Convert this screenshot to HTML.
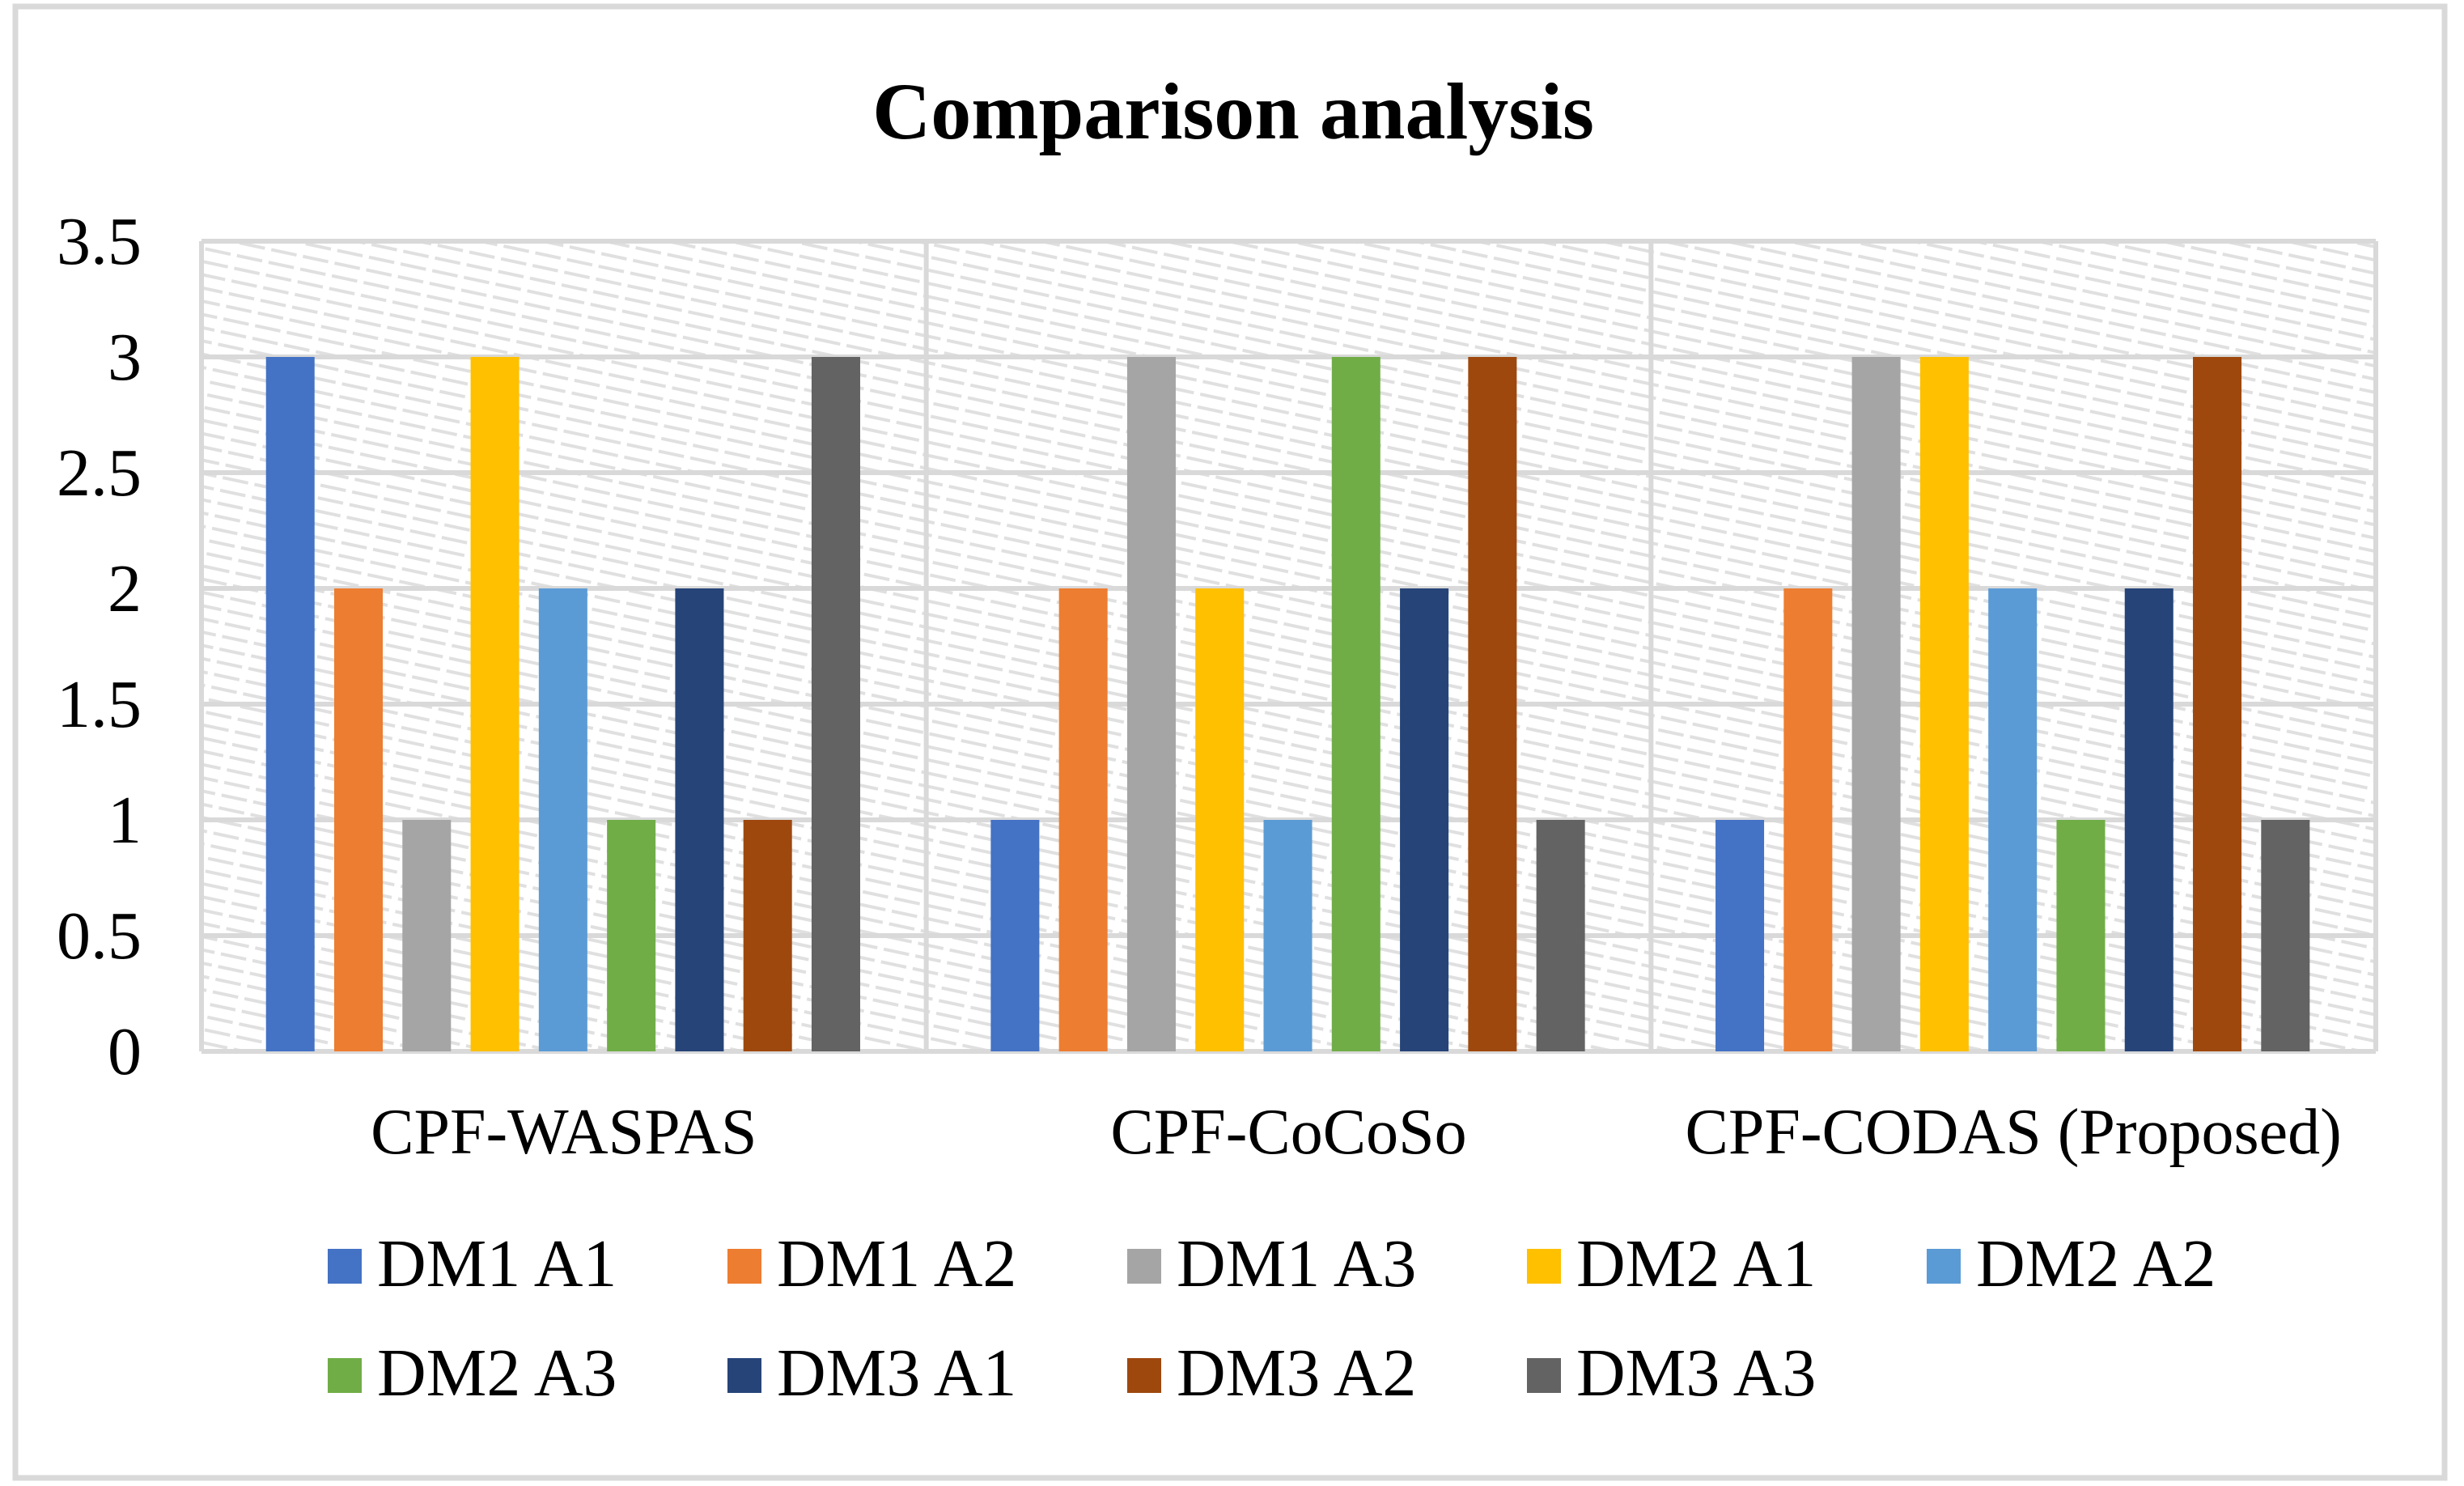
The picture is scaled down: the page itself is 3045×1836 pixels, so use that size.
<!DOCTYPE html>
<html><head><meta charset="utf-8"><style>
html,body{margin:0;padding:0;background:#fff;}
svg{display:block;font-family:"Liberation Serif",serif;}
</style></head><body>
<svg id="chart" width="3045" height="1836" viewBox="0 0 3045 1836" xmlns="http://www.w3.org/2000/svg">
<defs>
<pattern id="hatch" width="40" height="16" patternUnits="userSpaceOnUse" patternTransform="rotate(12)">
<rect width="40" height="16" fill="#fff"/>
<line x1="0" y1="8" x2="40" y2="8" stroke="#e0e0e0" stroke-width="4" stroke-dasharray="24 8"/>
</pattern>
</defs>
<rect x="19" y="8" width="3002" height="1818" fill="#fff" stroke="#d9d9d9" stroke-width="7"/>
<text x="1524" y="171" text-anchor="middle" font-size="100" font-weight="bold">Comparison analysis</text>
<g id="plot"></g>
<g id="legend"></g>
</svg>
<script>
const categories = ["CPF-WASPAS", "CPF-CoCoSo", "CPF-CODAS (Proposed)"];
const seriesNames = ["DM1 A1","DM1 A2","DM1 A3","DM2 A1","DM2 A2","DM2 A3","DM3 A1","DM3 A2","DM3 A3"];
const seriesColors = ["#4472C4","#ED7D31","#A5A5A5","#FFC000","#5B9BD5","#70AD47","#264478","#9E480E","#636363"];
const waspasValues = [3,2,1,3,2,1,2,1,3];
const cocosoValues = [1,2,3,2,1,3,2,3,1];
const codasValues = [1,2,3,3,2,1,2,3,1];
const yTicks = [0,0.5,1,1.5,2,2.5,3,3.5];
const yTickLabels = ["0","0.5","1","1.5","2","2.5","3","3.5"];

const NS = "http://www.w3.org/2000/svg";
const plotL = 249, plotR = 2936, plotT = 298, plotB = 1299, yMax = 3.5;
const groupW = (plotR - plotL) / categories.length;
function yScale(v){ return plotB - (v / yMax) * (plotB - plotT); }
function xGroup(g){ return plotL + g * groupW; }
function xBar(g, i){ return xGroup(g) + groupW * 0.089 + i * groupW * 0.0941; }
const barW = groupW * 0.067;
function mk(tag, attrs, parent){ const e = document.createElementNS(NS, tag); for (const k in attrs) e.setAttribute(k, attrs[k]); parent.appendChild(e); return e; }

const plot = document.getElementById('plot');
const bg = mk('rect', {x:plotL, y:plotT, width:plotR-plotL, height:plotB-plotT, fill:'url(#hatch)'}, plot);



yTicks.forEach((t, k) => {
  const y = yScale(t);
  const gl = mk('line', {x1:plotL, x2:plotR, y1:y, y2:y, stroke:'#d9d9d9', 'stroke-width':6}, plot);
  
  
  const tl = mk('text', {x:175, y:y+28, 'text-anchor':'end', 'font-size':84}, plot);
  tl.textContent = yTickLabels[k];
  
  
});
for (let g = 0; g <= categories.length; g++) {
  const x = xGroup(g);
  const vl = mk('line', {x1:x, x2:x, y1:plotT, y2:plotB, stroke:'#d9d9d9', 'stroke-width':6}, plot);
  
  
}
const allValues = [waspasValues, cocosoValues, codasValues];
allValues.forEach((vals, g) => {
  vals.forEach((v, i) => {
    const b = mk('rect', {x:xBar(g,i), y:yScale(v), width:barW, height:plotB - yScale(v), fill:seriesColors[i]}, plot);
    
    
  });
  const cl = mk('text', {x:xGroup(g)+groupW/2, y:1425, 'text-anchor':'middle', 'font-size':80}, plot);
  cl.textContent = categories[g];
  
  
});

const legend = document.getElementById('legend');
seriesNames.forEach((n, i) => {
  const row = Math.floor(i / 5), col = i % 5;
  const x = 405 + col * 494, base = row === 0 ? 1589 : 1724;
  const g = mk('g', {}, legend);
  
  
  mk('rect', {x:x, y:base-46, width:42, height:43, fill:seriesColors[i]}, g);
  const t = mk('text', {x:x+61, y:base, 'font-size':84}, g);
  t.textContent = n;
});
</script>
</body></html>
